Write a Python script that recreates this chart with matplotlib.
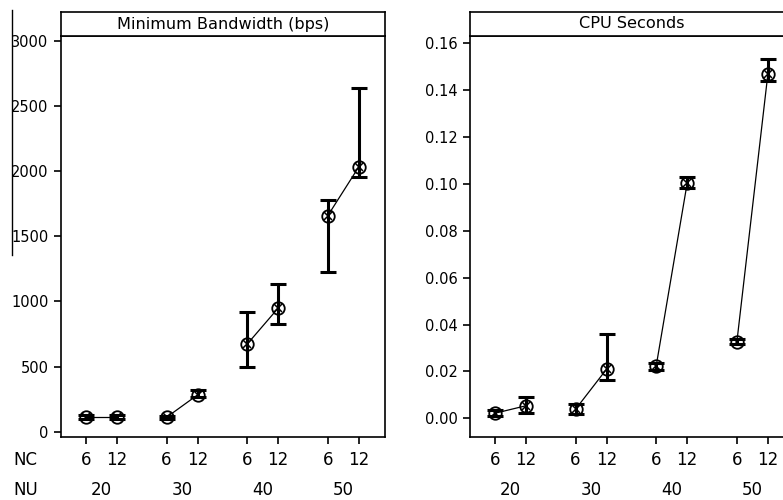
import matplotlib
matplotlib.use("Agg")
import matplotlib.pyplot as plt
from matplotlib.lines import Line2D
from matplotlib.transforms import blended_transform_factory

plt.rcParams['font.family'] = ['DejaVu Sans']

nu_groups = ['20', '30', '40', '50']
nc_levels = ['6', '12']

# Minimum bandwidth (bps): mean, lower, upper for (NU, NC) pairs
bw_mean = [115, 115, 110, 282, 672, 949, 1659, 2034]
bw_low = [100, 100, 98, 265, 495, 828, 1223, 1957]
bw_high = [130, 130, 122, 320, 915, 1136, 1782, 2640]

# CPU seconds
cpu_mean = [0.0022, 0.0054, 0.0039, 0.0210, 0.0224, 0.1004, 0.0327, 0.1469]
cpu_low = [0.0012, 0.0025, 0.0019, 0.0164, 0.0207, 0.0980, 0.0315, 0.1436]
cpu_high = [0.0034, 0.0090, 0.0062, 0.0358, 0.0237, 0.1029, 0.0337, 0.1532]

W, H = 783, 500
fig = plt.figure(figsize=(W / 100, H / 100), dpi=100)

# x positions: pairs inside each NU group, wider gaps between groups
xpos = []
for g in range(len(nu_groups)):
    for k in range(len(nc_levels)):
        xpos.append(g * 2.6 + k)


def panel(left_px, right_px, title, mean, low, high, ylim, yticks, yfmt, show_row_names):
    top_px, bot_px, strip_px = 36, 437, 12
    ax = fig.add_axes([left_px / W, (H - bot_px) / H, (right_px - left_px) / W, (bot_px - top_px) / H])
    st = fig.add_axes([left_px / W, (H - top_px) / H, (right_px - left_px) / W, (top_px - strip_px) / H])
    st.set_xticks([])
    st.set_yticks([])
    st.text(0.5, 0.5, title, ha='center', va='center', fontsize=11.6, transform=st.transAxes)
    for s in st.spines.values():
        s.set_linewidth(1.2)

    yerr = [[m - l for m, l in zip(mean, low)], [h - m for m, h in zip(mean, high)]]
    ax.errorbar(xpos, mean, yerr=yerr, fmt='none', ecolor='black', elinewidth=2.2,
                capsize=6, capthick=2.2, zorder=3)
    for g in range(len(nu_groups)):
        i = 2 * g
        ax.plot(xpos[i:i + 2], mean[i:i + 2], color='black', lw=0.9, zorder=2)
    ax.plot(xpos, mean, 'o', mfc='none', mec='black', ms=9, mew=1.3, zorder=4)
    ax.plot(xpos, mean, 'x', color='black', ms=5.5, mew=1.1, zorder=4)

    ax.set_xlim(-0.8, xpos[-1] + 0.84)
    ax.set_ylim(*ylim)
    ax.set_yticks(yticks)
    ax.set_yticklabels([yfmt(v) for v in yticks], fontsize=10.5)
    ax.set_xticks(xpos)
    ax.set_xticklabels(nc_levels * len(nu_groups), fontsize=12)
    ax.tick_params(axis='both', direction='out', length=5, width=1.2, color='black')
    ax.tick_params(axis='x', pad=5)
    ax.tick_params(axis='y', pad=4)
    for s in ax.spines.values():
        s.set_linewidth(1.2)

    tr = blended_transform_factory(ax.transData, fig.transFigure)
    for g, lab in enumerate(nu_groups):
        ax.text((xpos[2 * g] + xpos[2 * g + 1]) / 2, 1 - 490 / H, lab, transform=tr,
                ha='center', va='center', fontsize=12)
    if show_row_names:
        fig.text(13 / W, 1 - 460 / H, 'NC', ha='left', va='center', fontsize=12)
        fig.text(13 / W, 1 - 490 / H, 'NU', ha='left', va='center', fontsize=12)
    return ax


panel(61, 385, 'Minimum Bandwidth (bps)', bw_mean, bw_low, bw_high,
      (-41, 3037), [0, 500, 1000, 1500, 2000, 2500, 3000], lambda v: '%d' % v, True)
panel(470, 794, 'CPU Seconds', cpu_mean, cpu_low, cpu_high,
      (-0.0079, 0.1629), [0.0, 0.02, 0.04, 0.06, 0.08, 0.10, 0.12, 0.14, 0.16],
      lambda v: '%.2f' % v, False)

# thin vertical rule at the far left of the scan
fig.add_artist(Line2D([12 / W, 12 / W], [1 - 10 / H, 1 - 255 / H], color='black', lw=1.0,
                      transform=fig.transFigure))

fig.savefig('out.png', dpi=100)
